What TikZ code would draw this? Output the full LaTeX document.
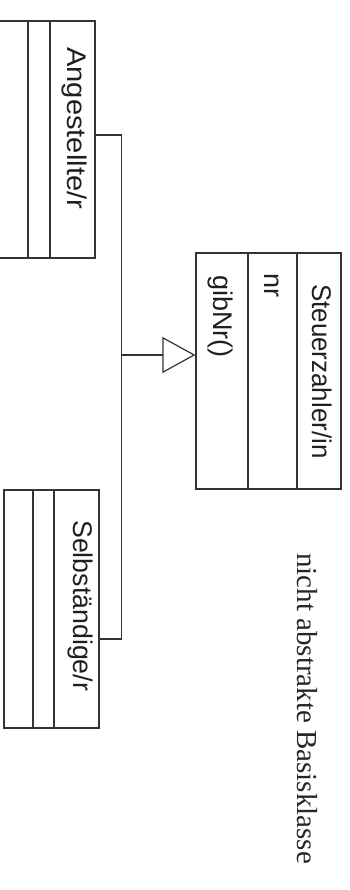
\documentclass[tikz,border=0pt]{standalone}
\usepackage{fontspec}
\setmainfont{Liberation Sans}
\newfontfamily\noteserif{Liberation Serif}
\usetikzlibrary{arrows.meta}
\begin{document}
\begin{tikzpicture}[x=1pt,y=-1pt,
  umlline/.style={draw=black!80,line width=1.2pt},
  classbox/.style={umlline,rectangle,inner sep=0pt,fill=none},
  label/.style={rotate=-90,anchor=base west,inner sep=0pt,text=black!88,
    font=\fontsize{27}{30}\selectfont},
  note/.style={rotate=-90,anchor=base west,inner sep=0pt,text=black!85,
    font=\noteserif\fontsize{29}{32}\selectfont}]
\useasboundingbox (0,0) rectangle (350,890);
\clip (0,0) rectangle (350,890);

% class boxes
\node[classbox,minimum width=101pt,minimum height=237pt] (ang) at (44.5,139.5) {};
\node[classbox,minimum width=95pt,minimum height=238pt] (sel) at (51.5,609) {};
\node[classbox,minimum width=145pt,minimum height=236pt] (stz) at (268.5,371) {};

% compartment separators
\draw[umlline] (28,0 |- ang.north) -- (28,0 |- ang.south);
\draw[umlline] (50,0 |- ang.north) -- (50,0 |- ang.south);
\draw[umlline] (33,0 |- sel.north) -- (33,0 |- sel.south);
\draw[umlline] (54,0 |- sel.north) -- (54,0 |- sel.south);
\draw[umlline] (248,0 |- stz.north) -- (248,0 |- stz.south);
\draw[umlline] (297,0 |- stz.north) -- (297,0 |- stz.south);

% class texts
\node[label] (angname) at (67,47) {\scalebox{1.08}[1]{Angestellte/r}};
\node[label] (selname) at (73,520) {\scalebox{0.99}[1]{Selbständige/r}};
\node[label] (stzname) at (312,284) {\scalebox{0.96}[1]{Steuerzahler/in}};
\node[label] (attr) at (264,273) {nr};
\node[label] (meth) at (213,275) {gibNr()};

% inheritance connector
\coordinate (busTop) at (121.5,135);
\coordinate (busMid) at (121.5,355);
\coordinate (busBot) at (121.5,639);
\draw[umlline] (ang.east |- busTop) -- (busTop) -- (busBot) -- (sel.east |- busBot);
\draw[umlline,-{Triangle[open,length=33pt,width=36pt,line width=1.2pt]}]
  (busMid) -- (stz.west |- busMid);

% remark
\node[note] (remark) at (297,553) {nicht abstrakte Basisklasse};
\end{tikzpicture}
\end{document}
